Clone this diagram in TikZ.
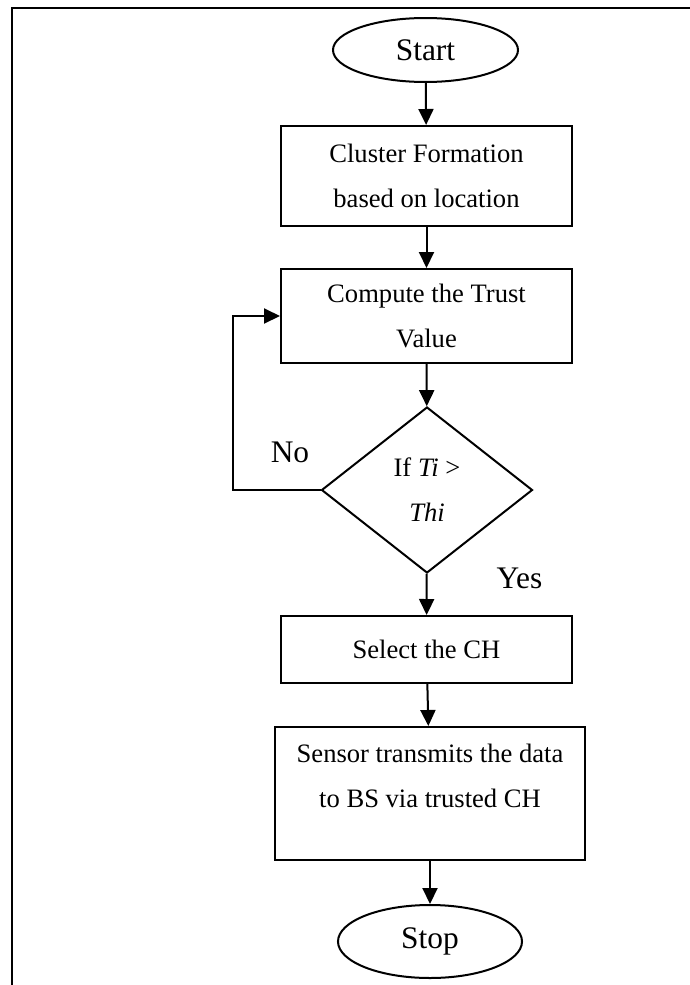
\documentclass[tikz,border=0pt]{standalone}
\usepackage{fontspec}
\setmainfont{Liberation Serif}
\usetikzlibrary{shapes.geometric,arrows.meta}

\begin{document}
\begin{tikzpicture}[
    x=0.5pt, y=-0.5pt,
    process/.style={rectangle, draw, line width=1pt, minimum width=145.5pt, minimum height=#1, align=center, font=\fontsize{13.3}{22.5}\selectfont},
    terminal/.style={ellipse, draw, line width=1pt, inner sep=0pt, font=\fontsize{15.7}{18}\selectfont},
    decision/.style={diamond, draw, line width=1pt, inner sep=0pt, minimum width=105.5pt, minimum height=83pt, align=center, font=\fontsize{13.3}{22.5}\selectfont},
    arrow/.style={-{Triangle[length=8pt,width=7.5pt]}, line width=1pt}
]

\useasboundingbox (0,0) rectangle (690,985);

% Frame
\draw[line width=1.4pt] (690,8) -- (12,8) -- (12,985);

% Steps
\node[terminal, minimum width=92.5pt, minimum height=32pt] (start) at (425.5,50) {Start};
\node[process=50pt] (cluster) at (426.5,176) {Cluster Formation\\based on location};
\node[process=47pt] (trust) at (426.5,316) {Compute the Trust\\Value};
\node[decision] (cond) at (427,490) {If \textit{Ti} >\\\textit{Thi}};
\node[process=33.5pt] (select) at (426.5,649.5) {Select the CH};
\node[process=66.5pt, minimum width=155pt, text depth=18pt] (transmit) at (430,793.5) {Sensor transmits the data\\to BS via trusted CH};
\node[terminal, minimum width=92pt, minimum height=36.5pt] (stop) at (430,941.5) {Stop};

% Labels
\node[font=\fontsize{15.7}{18}\selectfont] (no) at (290,452) {No};
\node[font=\fontsize{15.7}{18}\selectfont] (yes) at (519.5,578) {Yes};

% Arrows
\draw[arrow] (start) -- (cluster);
\draw[arrow] (cluster) -- (trust);
\draw[arrow] (trust) -- (cond);
\draw[arrow] (cond) -- (select);
\draw[arrow] (select) -- (transmit);
\draw[arrow] (transmit) -- (stop);

% Loop back
\coordinate (back) at (233,490);
\draw[arrow] (cond.west) -- (back) |- (trust.west);

\end{tikzpicture}
\end{document}
